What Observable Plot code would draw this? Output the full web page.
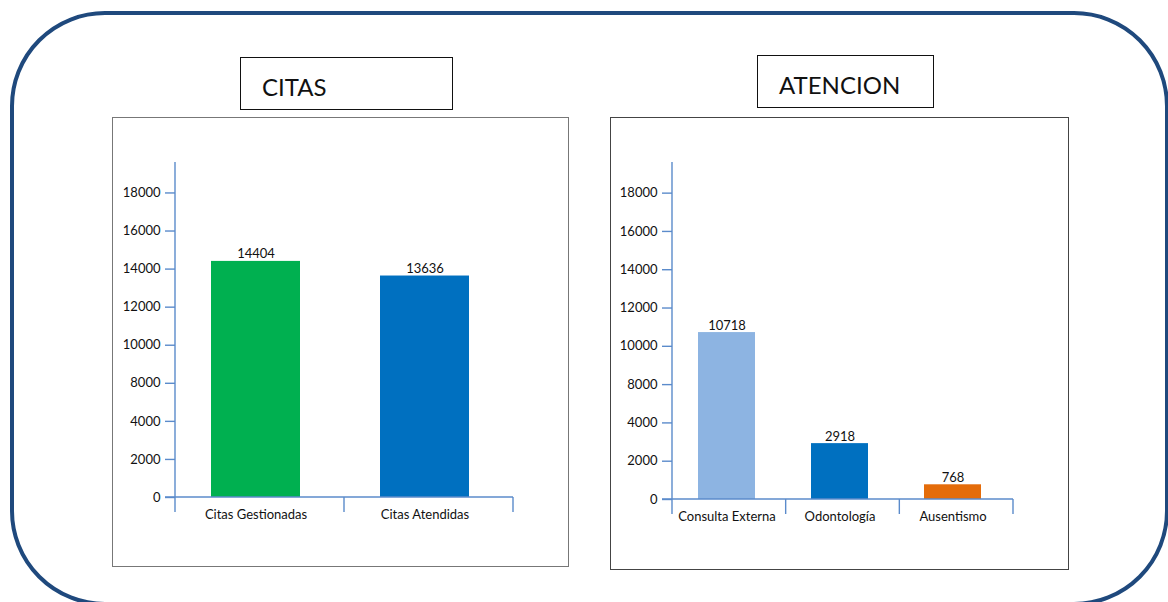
<!DOCTYPE html>
<html>
<head>
<meta charset="utf-8">
<script src="https://cdn.jsdelivr.net/npm/d3@7"></script>
<script src="https://cdn.jsdelivr.net/npm/@observablehq/plot@0.6"></script>
<style>
  html, body { margin: 0; padding: 0; background: #fff; }
  #page { position: relative; width: 1168px; height: 602px; overflow: hidden; font-family: Lato, "Open Sans", sans-serif; }
  #outer { position: absolute; left: 10px; top: 11px; width: 1159px; height: 595px; box-sizing: border-box;
           border: 4.5px solid #1f497d; border-radius: 95px; }
  .box { position: absolute; box-sizing: border-box; }
  .title { position: absolute; box-sizing: border-box; border: 1.2px solid #111; background: #fff;
           font-size: 24px; line-height: 1.2; padding-top: 15px; padding-left: 21px; color: #111; }
  .chart { position: absolute; }
</style>
</head>
<body>
<div id="page">
  <div id="outer"></div>
  <div class="box" style="left:112px;top:117px;width:457px;height:450px;border:1.5px solid #777;"></div>
  <div class="box" style="left:610px;top:117px;width:459px;height:453px;border:1.5px solid #444;"></div>
  <div class="title" style="left:240px;top:57px;width:213px;height:53px;">CITAS</div>
  <div class="title" style="left:757px;top:55px;width:177px;height:53px;">ATENCION</div>
  <div class="chart" id="c1" style="left:112px;top:117px;"></div>
  <div class="chart" id="c2" style="left:610px;top:117px;"></div>
</div>
<script>
// ---- data ----
const citasCats = ["Citas Gestionadas", "Citas Atendidas"];
const citasValues = [14404, 13636];
const citasColors = ["#00b050", "#0070c0"];

const atencionCats = ["Consulta Externa", "Odontología", "Ausentismo"];
const atencionValues = [10718, 2918, 768];
const atencionColors = ["#8db4e2", "#0070c0", "#e46c0a"];

// tick labels as printed on the original (evenly spaced on the axis)
const yTicks = [0, 2000, 4000, 8000, 10000, 12000, 14000, 16000, 18000];
const yTop = 19600;

const axisColor = "#5b8bcb";

// piecewise mapping value -> axis step, following the printed tick labels
const yDomainPts = [...yTicks, yTop];
const yStepPts = yDomainPts.map((v, i) => i < yTicks.length ? i : (yTicks.length - 1) + (yTop - yTicks[yTicks.length - 1]) / (yTicks[1] - yTicks[0]));
const toStep = d3.scaleLinear().domain(yDomainPts).range(yStepPts);
const nSteps = yStepPts[yStepPts.length - 1];

function makeChart({cats, values, colors, width, height, ml, mr, mt, mb, insetL, insetR}) {
  const data = cats.map((c, i) => ({cat: c, value: values[i]}));
  const shift = (insetL - insetR) / 2;

  const axisLines = (index, scales, vals, dims) => {
    const g = d3.create("svg:g").attr("stroke", axisColor).attr("stroke-width", 1.4).attr("fill", "none");
    const x0 = dims.marginLeft, x1 = dims.width - dims.marginRight;
    const y0 = scales.y(toStep(0)), yT = scales.y(toStep(yTop));
    g.append("line").attr("x1", x0).attr("x2", x0).attr("y1", yT).attr("y2", y0);
    g.append("line").attr("x1", x0 - 10).attr("x2", x1).attr("y1", y0).attr("y2", y0);
    const n = cats.length;
    for (let i = 0; i <= n; i++) {
      const x = x0 + i * (x1 - x0) / n;
      g.append("line").attr("x1", x).attr("x2", x).attr("y1", y0).attr("y2", y0 + 15);
    }
    return g.node();
  };

  return Plot.plot({
    width, height,
    marginLeft: ml, marginRight: mr, marginTop: mt, marginBottom: mb,
    style: {fontFamily: "Lato, 'Open Sans', sans-serif", fontSize: "13px", color: "#222", background: "transparent", overflow: "visible"},
    x: {domain: cats, padding: 0, axis: null, label: null},
    y: {domain: [0, nSteps], transform: toStep, axis: null, label: null},
    color: {domain: cats, range: colors},
    marks: [
      Plot.barY(data, {x: "cat", y: "value", fill: "cat", insetLeft: insetL, insetRight: insetR}),
      Plot.text(data, {x: "cat", y: "value", text: d => String(d.value), dx: shift, dy: -3,
                       lineAnchor: "bottom", fill: "#111", fontSize: 13}),
      Plot.axisY(yTicks, {anchor: "left", label: null, tickSize: 10, tickPadding: 5, stroke: axisColor,
                          strokeWidth: 1.4, fill: "#111", fontSize: 13, tickFormat: d => String(d)}),
      Plot.axisX(cats, {anchor: "bottom", label: null, tickSize: 0, tickPadding: 12, fill: "#111", fontSize: 13, dx: shift}),
      axisLines
    ]
  });
}

document.getElementById("c1").appendChild(makeChart({
  cats: citasCats, values: citasValues, colors: citasColors,
  width: 456, height: 449, ml: 63, mr: 55, mt: 45, mb: 69, insetL: 36, insetR: 44
}));
document.getElementById("c2").appendChild(makeChart({
  cats: atencionCats, values: atencionValues, colors: atencionColors,
  width: 458, height: 452, ml: 62, mr: 55, mt: 45, mb: 70, insetL: 25, insetR: 31
}));
</script>
</body>
</html>
